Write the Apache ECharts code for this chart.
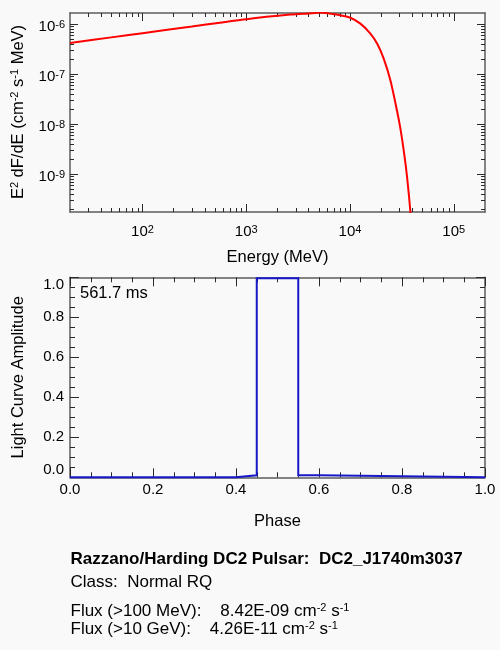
<!DOCTYPE html>
<html><head><meta charset="utf-8">
<script src="https://cdn.jsdelivr.net/npm/echarts@6/dist/echarts.min.js"></script>
<style>html,body{margin:0;padding:0;background:#f9f9f9}#c{width:500px;height:650px}</style>
</head><body><div id="c"></div>
<script>
// ---- data ----
const energyMeV = [20, 50, 100, 300, 1000, 2660, 4000, 4630, 5200, 5800, 6800, 8070, 10080, 12590, 15720, 18240, 21120, 24490, 28440, 30600, 32930, 35480, 38190, 40400];
const e2dfde = [4.23e-7, 5.47e-7, 6.64e-7, 9.0e-7, 1.26e-6, 1.56e-6, 1.65e-6, 1.68e-6, 1.71e-6, 1.68e-6, 1.60e-6, 1.51e-6, 1.35e-6, 1.03e-6, 6.52e-7, 4.11e-7, 2.06e-7, 7.6e-8, 1.82e-8, 8.2e-9, 3.0e-9, 8.8e-10, 1.76e-10, 3.0e-11];
const energyTicks = [100, 1000, 10000, 100000];
const fluxTicks = [1e-9, 1e-8, 1e-7, 1e-6];
// light-curve histogram: bin edges drawn as vertices
const phase = [0, 0.40, 0.40, 0.45, 0.45, 0.55, 0.55, 0.60, 0.60, 1.0];
const amplitude = [0, 0, 0.01, 0.01, 0.995, 0.995, 0.01, 0.01, 0, 0];
const periodLabel = '561.7 ms';
const infoLines = [
  '{t|Razzano/Harding DC2 Pulsar:  DC2_J1740m3037}',
  '{b|Class:  Normal RQ}',
  '{b|Flux (>100 MeV):    8.42E-09 cm}{s|-2}{b| s}{s|-1}',
  '{b|Flux (>10 GeV):    4.26E-11 cm}{s|-2}{b| s}{s|-1}'
];

const eMin = 20, eMax = 2e5, fMin = 1.76e-10, fMax = 1.68e-6;
const FONT = "'Liberation Sans', Arial, Helvetica, sans-serif";
const AXC = '#5c5c5c', TKC = '#2a2a2a';

function minorLog(lo, hi) {
  const out = [];
  for (let d = Math.floor(Math.log10(lo)) - 1; d <= Math.ceil(Math.log10(hi)); d++) {
    for (let k = 2; k <= 9; k++) {
      const v = k * Math.pow(10, d);
      if (v > lo * 1.0001 && v < hi * 0.9999) out.push(v);
    }
  }
  return out;
}
const minorE = minorLog(eMin, eMax);
const minorF = minorLog(fMin, fMax);

const logRich = {
  b: { fontSize: 15, lineHeight: 22, padding: [6, 0, 0, 0], fontFamily: FONT, color: '#000' },
  s: { fontSize: 11, lineHeight: 9, padding: [6, 0, 0, 0], verticalAlign: 'top', fontFamily: FONT, color: '#000' }
};
const pow10 = v => '{b|10}{s|' + Math.round(Math.log10(v)) + '}';

function logAx(pos, grid, min, max, ticks, len, label, line) {
  return {
    type: 'log', logBase: 10, gridIndex: grid, position: pos, min: min, max: max,
    splitLine: { show: false },
    axisLine: { show: line, onZero: false, lineStyle: { color: AXC, width: 1.5 } },
    axisTick: { show: true, inside: true, length: len, customValues: ticks, lineStyle: { color: TKC, width: 1 } },
    axisLabel: label ? Object.assign({ customValues: ticks, formatter: pow10, rich: logRich, color: '#000' }, label) : { show: false }
  };
}
function linAx(pos, grid, label) {
  return {
    type: 'value', gridIndex: grid, position: pos, min: 0, max: 1, interval: 0.2,
    splitLine: { show: false },
    axisLine: { show: true, onZero: false, lineStyle: { color: AXC, width: 1.5 } },
    axisTick: { show: true, inside: true, length: 9, lineStyle: { color: TKC, width: 1 } },
    minorTick: { show: true, splitNumber: 4, length: 5, lineStyle: { color: TKC, width: 1 } },
    axisLabel: label ? Object.assign({ formatter: v => v.toFixed(1), fontSize: 15, lineHeight: 15, fontFamily: FONT, color: '#000' }, label) : { show: false }
  };
}

const chart = echarts.init(document.getElementById('c'), null, { renderer: 'canvas' });
const txt = (x, y, text, extra) => ({
  type: 'text', x: x, y: y, silent: true,
  rotation: extra && extra.rot || 0,
  style: Object.assign({ text: text, fontSize: 16.5, fontFamily: FONT, fill: '#000',
    align: 'center', verticalAlign: 'middle', textAlign: 'center', textVerticalAlign: 'middle' }, extra && extra.style || {})
});
const supRich = {
  b: { fontSize: 16.5, lineHeight: 18, fontFamily: FONT, color: '#000' },
  s: { fontSize: 11, lineHeight: 9, verticalAlign: 'top', fontFamily: FONT, color: '#000' }
};
const lineRich = {
  t: { fontSize: 17, lineHeight: 18, fontWeight: 'bold', fontFamily: FONT, color: '#000' },
  b: { fontSize: 17, lineHeight: 18, fontFamily: FONT, color: '#000' },
  s: { fontSize: 11, lineHeight: 9, verticalAlign: 'top', fontFamily: FONT, color: '#000' }
};
const lineY = [559.5, 582.5, 611, 629.5];

chart.setOption({
  animation: false,
  backgroundColor: '#f9f9f9',
  grid: [
    { left: 70, top: 13, width: 415, height: 199 },
    { left: 70, top: 277.3, width: 415, height: 200 }
  ],
  xAxis: [
    logAx('bottom', 0, eMin, eMax, energyTicks, 8, { margin: 6 }, true),
    logAx('top', 0, eMin, eMax, energyTicks, 8, null, true),
    logAx('bottom', 0, eMin, eMax, minorE, 4, null, false),
    logAx('top', 0, eMin, eMax, minorE, 4, null, false),
    linAx('bottom', 1, { margin: 5 }),
    linAx('top', 1, null)
  ],
  yAxis: [
    logAx('left', 0, fMin, fMax, fluxTicks, 8, { margin: 5 }, true),
    logAx('right', 0, fMin, fMax, fluxTicks, 8, null, true),
    logAx('left', 0, fMin, fMax, minorF, 4, null, false),
    logAx('right', 0, fMin, fMax, minorF, 4, null, false),
    linAx('left', 1, { margin: 6, verticalAlignMinLabel: 'bottom', verticalAlignMaxLabel: 'top' }),
    linAx('right', 1, null)
  ],
  series: [
    {
      type: 'line', xAxisIndex: 0, yAxisIndex: 0, showSymbol: false, smooth: 0.3, clip: true,
      data: energyMeV.map((e, i) => [e, e2dfde[i]]),
      lineStyle: { color: '#ff0000', width: 2 }
    },
    {
      type: 'line', xAxisIndex: 4, yAxisIndex: 4, showSymbol: false, clip: false,
      data: phase.map((p, i) => [p, amplitude[i]]),
      lineStyle: { color: '#1818c8', width: 2, join: 'miter', cap: 'butt' }
    }
  ],
  graphic: [
    txt(18, 112, '{b|E}{s|2}{b| dF/dE (cm}{s|-2}{b| s}{s|-1}{b| MeV)}', { rot: Math.PI / 2, style: { rich: supRich } }),
    txt(277.5, 257, 'Energy (MeV)'),
    txt(18.5, 377.3, 'Light Curve Amplitude', { rot: Math.PI / 2 }),
    txt(277.5, 521.5, 'Phase'),
    txt(80, 293.3, periodLabel, { style: { align: 'left', textAlign: 'left' } })
  ].concat(infoLines.map((t, i) => txt(70.5, lineY[i], t, { style: { align: 'left', textAlign: 'left', rich: lineRich } })))
});
</script>
</body></html>
